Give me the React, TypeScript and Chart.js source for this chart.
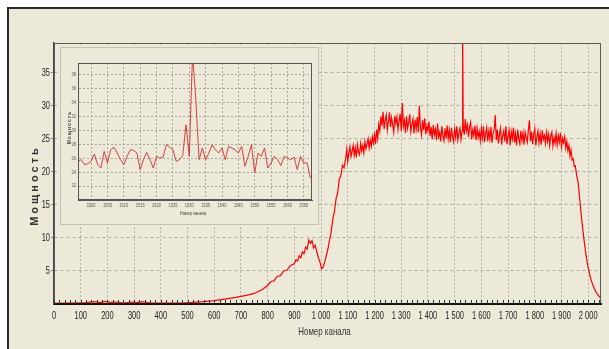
import React, { useEffect, useRef } from "react";
import { Chart, registerables } from "chart.js";
Chart.register(...registerables);

// ---------- main spectrum ----------
const mainChannels = [
  0, 40, 80, 120, 150, 170, 190, 210, 230, 260, 290, 310, 330, 360, 400, 440, 480, 520, 560, 600,
  640, 680, 720, 750, 780, 800, 812, 824, 836, 848, 860, 872, 884,
  900, 906, 912, 918, 924, 930, 936, 942, 948, 954, 960, 966, 972, 978, 984, 990,
  996, 1002, 1008, 1014, 1020, 1026, 1032, 1038, 1044, 1050, 1056, 1062, 1068, 1074, 1080, 1086,
  1092, 1096, 1100, 1104, 1108, 1112, 1116, 1120, 1124, 1128, 1132, 1136, 1140, 1144, 1148, 1152,
  1156, 1160, 1164, 1168, 1172, 1176, 1180, 1184, 1188, 1192, 1196, 1200, 1204, 1208, 1212, 1216,
  1220, 1224, 1228, 1232, 1236, 1240, 1244, 1248, 1252, 1256, 1260, 1264, 1268, 1272, 1276, 1280,
  1284, 1288, 1292, 1296, 1300, 1304, 1308, 1312, 1316, 1320, 1324, 1328, 1332, 1336, 1340, 1344,
  1348, 1352, 1356, 1360, 1364, 1368, 1372, 1376, 1380, 1384, 1388, 1392, 1396, 1400, 1404, 1408,
  1412, 1416, 1420, 1424, 1428, 1432, 1436, 1440, 1444, 1448, 1452, 1456, 1460, 1464, 1468, 1472,
  1476, 1480, 1484, 1488, 1492, 1496, 1500, 1504, 1508, 1512, 1516, 1520, 1524, 1528, 1530,
  1532, 1536, 1540, 1544, 1548, 1552, 1556, 1560, 1564, 1568, 1572, 1576, 1580, 1584, 1588, 1592,
  1596, 1600, 1604, 1608, 1612, 1616, 1620, 1624, 1628, 1632, 1636, 1640, 1644, 1648, 1652, 1656,
  1660, 1664, 1668, 1672, 1676, 1680, 1684, 1688, 1692, 1696, 1700, 1704, 1708, 1712, 1716, 1720,
  1724, 1728, 1732, 1736, 1740, 1744, 1748, 1752, 1756, 1760, 1764, 1768, 1772, 1776, 1780, 1784,
  1788, 1792, 1796, 1800, 1804, 1808, 1812, 1816, 1820, 1824, 1828, 1832, 1836, 1840, 1844, 1848,
  1852, 1856, 1860, 1864, 1868, 1872, 1876, 1880, 1884, 1888, 1892, 1896, 1900, 1904, 1908, 1912,
  1916, 1920, 1924, 1928, 1932, 1936, 1940, 1944, 1948, 1952, 1956,
  1962, 1968, 1974, 1980, 1986, 1992, 1998, 2004, 2012, 2020, 2028, 2036, 2044, 2048,
];
const mainPower = [
  0.1, 0.15, 0.15, 0.2, 0.35, 0.2, 0.4, 0.25, 0.3, 0.15, 0.3, 0.2, 0.35, 0.15, 0.12, 0.12, 0.15, 0.25, 0.35, 0.5,
  0.75, 1.0, 1.3, 1.6, 2.2, 2.8, 3.4, 3.5, 4.2, 4.3, 5.0, 5.1, 5.8,
  6.1, 6.7, 6.5, 7.3, 7.0, 7.9, 7.6, 8.6, 8.3, 9.7, 9.2, 9.6, 8.5, 8.9, 7.9, 7.0,
  6.3, 5.3, 5.6, 6.4, 7.4, 8.4, 9.8, 11.0, 12.9, 14.0, 15.9, 16.8, 18.9, 19.4, 21.0, 20.6,
  22.0, 23.4, 21.6, 22.9, 23.8, 22.3, 23.1, 24.0, 22.5, 23.6, 22.2, 24.1, 23.0, 22.6, 24.3, 23.2,
  24.0, 22.9, 24.6, 23.5, 24.2, 25.0, 23.6, 24.8, 23.9, 25.3, 24.4, 25.6, 24.2, 26.4, 25.1, 27.2,
  26.2, 28.4, 27.0, 29.1, 26.5, 27.8, 28.6, 26.3, 27.5, 29.0, 26.8, 28.2, 27.1, 26.0, 28.5, 27.3,
  28.3, 26.4, 27.6, 28.8, 26.2, 30.4, 26.9, 27.8, 25.9, 28.4, 26.6, 27.5, 28.7, 26.1, 27.2, 28.0,
  25.8, 27.9, 26.5, 28.3, 26.0, 30.0, 26.7, 25.6, 27.8, 26.3, 28.1, 25.7, 27.0, 26.2, 27.6, 25.4,
  26.8, 24.9, 27.1, 25.6, 26.4, 24.8, 27.3, 25.3, 26.0, 24.6, 26.9, 25.5, 24.7, 26.6, 25.1, 27.0,
  25.0, 26.3, 24.5, 26.7, 25.4, 24.6, 26.5, 25.2, 26.9, 24.8, 25.9, 26.6, 24.9, 26.2, 41.0,
  27.4, 25.6, 28.0, 26.2, 27.1, 25.3, 26.8, 27.5, 24.9, 26.4, 25.5, 27.0, 24.8, 26.6, 25.2, 26.1,
  24.7, 26.5, 25.1, 26.9, 24.5, 25.8, 26.7, 24.6, 26.2, 25.0, 26.8, 24.4, 25.9, 26.3, 28.6, 24.8,
  26.4, 24.3, 25.7, 26.6, 24.1, 25.5, 26.2, 24.6, 26.9, 24.2, 25.4, 26.3, 24.0, 26.1, 25.0, 26.7,
  24.4, 25.8, 24.0, 26.4, 25.1, 24.3, 26.2, 24.7, 25.9, 24.1, 26.0, 25.2, 24.5, 26.3, 27.8, 24.6,
  26.1, 24.2, 25.6, 26.5, 24.0, 25.3, 26.2, 24.4, 25.8, 24.1, 26.3, 24.9, 25.5, 24.3, 26.0, 24.6,
  25.7, 24.0, 25.4, 26.0, 23.9, 25.2, 24.3, 25.8, 24.1, 25.5, 24.5, 25.9, 23.8, 25.1, 24.4, 25.3,
  23.6, 24.6, 23.2, 24.0, 22.4, 23.3, 21.8, 22.0, 20.8, 20.9, 19.7,
  18.5, 16.0, 13.5, 11.2, 9.2, 7.4, 5.9, 4.7, 3.5, 2.6, 1.9, 1.4, 1.0, 0.9,
];
const mainXTicks = [0, 100, 200, 300, 400, 500, 600, 700, 800, 900, 1000, 1100, 1200, 1300, 1400, 1500, 1600, 1700, 1800, 1900, 2000];
const mainYTicks = [5, 10, 15, 20, 25, 30, 35];

// ---------- inset (zoom around the spike) ----------
const insetChannels = [
  1496, 1497, 1498, 1499, 1500, 1501, 1502, 1503, 1504, 1505, 1506, 1507, 1508, 1509, 1510, 1511, 1512, 1513,
  1514, 1515, 1516, 1517, 1518, 1519, 1520, 1521, 1522, 1523, 1524, 1525, 1526, 1527, 1528, 1529, 1530, 1531,
  1532, 1533, 1534, 1535, 1536, 1537, 1538, 1539, 1540, 1541, 1542, 1543, 1544, 1545, 1546, 1547, 1548, 1549,
  1550, 1551, 1552, 1553, 1554, 1555, 1556, 1557, 1558, 1559, 1560, 1561, 1562, 1563, 1564, 1565, 1566, 1567,
];
const insetPower = [
  25.56, 25.8, 25.08, 25.22, 25.56, 26.61, 25.08, 24.6, 27.0, 25.32, 27.23, 27.57, 26.76, 25.8, 25.08, 26.28, 27.23, 27.14,
  26.76, 24.36, 25.8, 26.85, 25.8, 24.6, 26.28, 26.04, 26.18, 27.95, 27.62, 27.23, 25.56, 25.8, 26.37, 30.82, 26.28, 41.0,
  34.4, 25.8, 27.47, 25.8, 26.76, 27.95, 27.23, 26.76, 27.47, 25.8, 27.71, 27.47, 27.23, 26.76, 27.71, 24.84, 26.28, 27.95,
  23.89, 26.76, 26.28, 27.47, 24.6, 25.32, 26.28, 25.8, 24.94, 26.28, 26.04, 25.8, 26.18, 24.36, 26.28, 25.32, 25.32, 23.17,
];
const insetXTicks = [1500, 1505, 1510, 1515, 1520, 1525, 1530, 1535, 1540, 1545, 1550, 1555, 1560, 1565];
const insetYTicks = [22, 24, 26, 28, 30, 32, 34, 36, 38];

const BG = "#ECE9D8";
const FONT = "'Liberation Sans', Arial, sans-serif";

function fmtThousands(v: number): string {
  if (v >= 1000) return `${Math.floor(v / 1000)} ${String(v % 1000).padStart(3, "0")}`;
  return String(v);
}

function squash(ctx: CanvasRenderingContext2D, text: string, x: number, y: number, sx: number) {
  ctx.save();
  ctx.translate(x, y);
  ctx.scale(sx, 1);
  ctx.fillText(text, 0, 0);
  ctx.restore();
}

const mainDecor = {
  id: "mainDecor",
  afterDatasetsDraw(chart: any) {
    const { ctx, chartArea: a, scales } = chart;
    ctx.save();
    ctx.strokeStyle = "#5a5a5a";
    ctx.lineWidth = 1;
    ctx.strokeRect(a.left + 0.5, a.top + 0.5, a.right - a.left - 1, a.bottom - a.top - 1);
    ctx.strokeStyle = "#111";
    ctx.lineWidth = 2;
    ctx.beginPath();
    ctx.moveTo(a.left, a.bottom);
    ctx.lineTo(a.right, a.bottom);
    ctx.stroke();
    ctx.lineWidth = 1;
    ctx.strokeStyle = "#333";
    ctx.beginPath();
    for (let v = 0; v <= 2040; v += 20) {
      const x = Math.round(scales.x.getPixelForValue(v)) + 0.5;
      ctx.moveTo(x, a.bottom - 4);
      ctx.lineTo(x, a.bottom);
    }
    ctx.stroke();

    // tick labels (condensed)
    ctx.fillStyle = "#222";
    ctx.font = `11px ${FONT}`;
    ctx.textBaseline = "middle";
    ctx.textAlign = "center";
    mainXTicks.forEach((v) => squash(ctx, fmtThousands(v), scales.x.getPixelForValue(v), a.bottom + 12, 0.68));
    ctx.textAlign = "right";
    mainYTicks.forEach((v) => squash(ctx, String(v), a.left - 4, scales.y.getPixelForValue(v), 0.68));

    // axis titles
    ctx.fillStyle = "#333";
    ctx.textAlign = "center";
    squash(ctx, "Номер канала", (a.left + a.right) / 2 - 3, a.bottom + 28, 0.72);
    ctx.translate(35, (a.top + a.bottom) / 2 + 12);
    ctx.rotate(-Math.PI / 2);
    ctx.font = `bold 11px ${FONT}`;
    (ctx as any).letterSpacing = "3px";
    ctx.fillText("Мощность", 0, 0);
    ctx.restore();
  },
};

const insetDecor = {
  id: "insetDecor",
  afterDatasetsDraw(chart: any) {
    const { ctx, chartArea: a, scales } = chart;
    ctx.save();
    ctx.strokeStyle = "#555";
    ctx.lineWidth = 1;
    ctx.strokeRect(a.left + 0.5, a.top + 0.5, a.right - a.left - 1, a.bottom - a.top - 1);
    ctx.fillStyle = "#555";
    ctx.font = `5px ${FONT}`;
    ctx.textBaseline = "middle";
    ctx.textAlign = "center";
    insetXTicks.forEach((v) => squash(ctx, String(v), scales.x.getPixelForValue(v), a.bottom + 6, 0.8));
    ctx.textAlign = "right";
    insetYTicks.forEach((v) => squash(ctx, String(v), a.left - 2, scales.y.getPixelForValue(v), 0.8));
    ctx.fillStyle = "#444";
    ctx.textAlign = "center";
    squash(ctx, "Номер канала", (a.left + a.right) / 2 - 2, a.bottom + 14, 0.8);
    ctx.translate(10, (a.top + a.bottom) / 2 - 4);
    ctx.rotate(-Math.PI / 2);
    ctx.font = `bold 5px ${FONT}`;
    (ctx as any).letterSpacing = "1px";
    ctx.fillText("Мощность", 0, 0);
    ctx.restore();
  },
};

export default function App() {
  const mainRef = useRef<HTMLCanvasElement>(null);
  const insetRef = useRef<HTMLCanvasElement>(null);

  useEffect(() => {
    const main = new Chart(mainRef.current!, {
      type: "line",
      data: {
        datasets: [
          {
            data: mainChannels.map((c, i) => ({ x: c, y: mainPower[i] })),
            borderColor: "#ff0000",
            borderWidth: 1.2,
            pointRadius: 0,
            tension: 0,
            fill: false,
          },
        ],
      },
      options: {
        responsive: false,
        animation: false,
        layout: { padding: { top: 43, right: 8, left: 0, bottom: 0 } },
        plugins: { legend: { display: false }, tooltip: { enabled: false } },
        scales: {
          x: {
            type: "linear",
            min: 0,
            max: 2048,
            afterBuildTicks: (s: any) => {
              s.ticks = mainXTicks.map((v) => ({ value: v }));
            },
            afterFit: (s: any) => {
              s.height = 45;
            },
            ticks: { display: false },
            grid: { color: "#b3b1a5", drawTicks: false, lineWidth: 1 },
            border: { display: true, color: "#111", width: 2, dash: [2, 2] },
          },
          y: {
            type: "linear",
            min: 0,
            max: 39.5,
            afterBuildTicks: (s: any) => {
              s.ticks = mainYTicks.map((v) => ({ value: v }));
            },
            afterFit: (s: any) => {
              s.width = 54;
            },
            ticks: { display: false },
            grid: { color: "#aeaca0", drawTicks: true, tickLength: 3, tickColor: "#888", lineWidth: 1 },
            border: { display: true, color: "#444", width: 1.5, dash: [3, 3] },
          },
        },
      },
      plugins: [mainDecor],
    } as any);

    const inset = new Chart(insetRef.current!, {
      type: "line",
      data: {
        datasets: [
          {
            data: insetChannels.map((c, i) => ({ x: c, y: insetPower[i] })),
            borderColor: "rgba(215,45,45,0.9)",
            borderWidth: 1,
            pointRadius: 0,
            tension: 0,
            fill: false,
          },
        ],
      },
      options: {
        responsive: false,
        animation: false,
        layout: { padding: { top: 16, right: 7, left: 0, bottom: 0 } },
        plugins: { legend: { display: false }, tooltip: { enabled: false } },
        scales: {
          x: {
            type: "linear",
            min: 1496,
            max: 1567.5,
            afterBuildTicks: (s: any) => {
              s.ticks = insetXTicks.map((v) => ({ value: v }));
            },
            afterFit: (s: any) => {
              s.height = 25;
            },
            ticks: { display: false },
            grid: { color: "#a9a79b", drawTicks: false, lineWidth: 1 },
            border: { display: true, color: "#555", width: 1, dash: [2, 2] },
          },
          y: {
            type: "linear",
            min: 20,
            max: 39.7,
            afterBuildTicks: (s: any) => {
              s.ticks = insetYTicks.map((v) => ({ value: v }));
            },
            afterFit: (s: any) => {
              s.width = 18;
            },
            ticks: { display: false },
            grid: { color: "#a9a79b", drawTicks: false, lineWidth: 1 },
            border: { display: true, color: "#555", width: 1, dash: [2, 2] },
          },
        },
      },
      plugins: [insetDecor],
    } as any);

    return () => {
      main.destroy();
      inset.destroy();
    };
  }, []);

  return (
    <div style={{ position: "fixed", left: 0, top: 0, width: 609, height: 349, background: "#fff", overflow: "hidden" }}>
      <div
        style={{
          position: "absolute",
          left: 7,
          top: 7,
          width: 620,
          height: 360,
          background: BG,
          borderLeft: "2px solid #2a2a2a",
          borderTop: "2px solid #2a2a2a",
        }}
      />
      <canvas ref={mainRef} width={609} height={349} style={{ position: "absolute", left: 0, top: 0 }} />
      <div
        style={{
          position: "absolute",
          left: 60,
          top: 47,
          width: 259,
          height: 178,
          boxSizing: "border-box",
          background: BG,
          border: "1px solid #c3c1b4",
        }}
      />
      <canvas ref={insetRef} width={259} height={178} style={{ position: "absolute", left: 60, top: 47 }} />
    </div>
  );
}
